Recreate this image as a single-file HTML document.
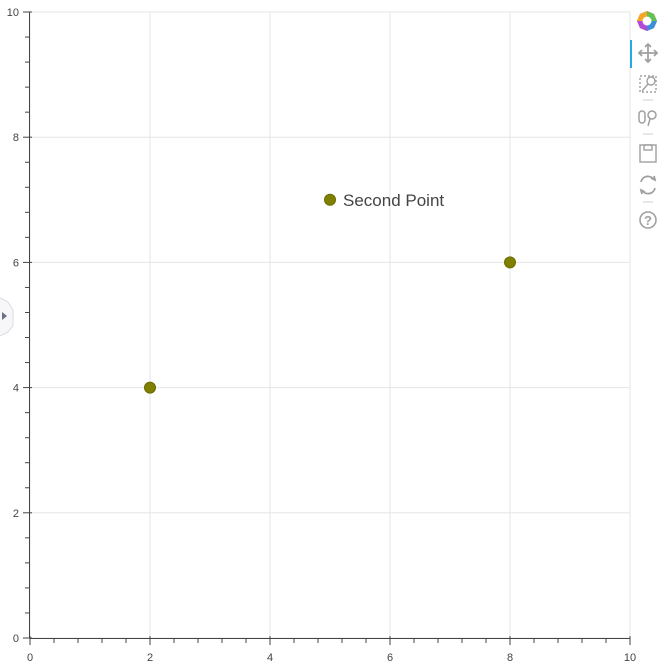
<!DOCTYPE html>
<html><head><meta charset="utf-8"><style>
body{margin:0;background:#fff;width:670px;height:671px;overflow:hidden;font-family:"Liberation Sans",sans-serif}
</style></head><body>
<svg width="670" height="671" style="position:absolute;left:0;top:0">
<g id="grid"></g>
<rect x="30" y="12" width="600" height="626" fill="none" stroke="#e5e5e5" stroke-width="1"/>
<g id="axes"></g>
<g id="points"></g>
<g>
<path d="M0,298 L8,302 L13,310 L13,326 L8,332 L0,336" fill="#f7f7f9" stroke="#d9dbe3"/>
<path d="M2,312 L7,316 L2,320 Z" fill="#6b7085"/>
</g>
<g>
<g transform="translate(647,21)">
<circle r="9" fill="none" stroke="#e0e0e0" stroke-width="0"/>
<path d="M0,-10 L7,-7 L10,0 L7,7 L0,10 L-7,7 L-10,0 L-7,-7Z" fill="#e84d8a"/>
<path d="M0,-10 L7,-7 L10,0 L0,0Z" fill="#64c14f"/>
<path d="M10,0 L7,7 L0,10 L0,0Z" fill="#3c8fd8"/>
<path d="M0,10 L-7,7 L-10,0 L0,0Z" fill="#b44ad8"/>
<path d="M-10,0 L-7,-7 L0,-10 L0,0Z" fill="#f5a623"/>
<circle r="4.5" fill="#fff"/>
</g>
<rect x="630" y="40" width="2" height="28" fill="#26aae1"/>
<g stroke="#a0a0a0" stroke-width="1.8" fill="none">
<path d="M648,44 V62 M639,53 H657"/><path d="M645,47 L648,44 L651,47 M645,59 L648,62 L651,59 M642,50 L639,53 L642,56 M654,50 L657,53 L654,56"/>
</g>
<g stroke="#a0a0a0" fill="none" stroke-width="1.4">
<rect x="640" y="76" width="16" height="16" stroke-dasharray="2,2"/><circle cx="651" cy="81" r="4"/><path d="M648,84 L642,91"/>
</g>
<line x1="643" y1="100" x2="653" y2="100" stroke="#cfcfcf"/>
<g stroke="#a0a0a0" fill="none" stroke-width="1.5">
<rect x="639" y="111" width="6" height="12" rx="3"/><circle cx="652" cy="115" r="4"/><path d="M650,119 L648,126"/>
</g>
<line x1="643" y1="134" x2="653" y2="134" stroke="#cfcfcf"/>
<g stroke="#a0a0a0" fill="none" stroke-width="1.4">
<rect x="640" y="145" width="16" height="17"/><rect x="644" y="145" width="8" height="5"/>
</g>
<g stroke="#a0a0a0" fill="none" stroke-width="1.8">
<path d="M641,182 A7,7 0 0 1 654,180"/><path d="M655,188 A7,7 0 0 1 642,190"/>
<path d="M651,178 L655,180 L654,176" /><path d="M645,192 L641,190 L642,194"/>
</g>
<line x1="643" y1="202" x2="653" y2="202" stroke="#cfcfcf"/>
<g>
<circle cx="648" cy="220" r="8" fill="none" stroke="#a0a0a0" stroke-width="1.6"/>
<text x="648" y="225" font-size="13" font-weight="bold" fill="#a0a0a0" text-anchor="middle">?</text>
</g>
</g>
</svg>
<script>
const xs=[2,5,8];
const ys=[4,7,6];
const labels=["","Second Point",""];
const xTicks=[0,2,4,6,8,10];
const yTicks=[0,2,4,6,8,10];
const NS="http://www.w3.org/2000/svg";
const X=v=>30+v*60, Y=v=>638-v*62.6;
function mk(t,a,p){const e=document.createElementNS(NS,t);for(const k in a)e.setAttribute(k,a[k]);p.appendChild(e);return e;}
const grid=document.getElementById('grid'),axes=document.getElementById('axes'),pts=document.getElementById('points');
xTicks.forEach(t=>{if(t>0&&t<10){const l=mk('line',{x1:X(t),x2:X(t),y1:12,y2:638,stroke:'#e5e5e5'},grid);

}});
yTicks.forEach(t=>{if(t>0&&t<10){const l=mk('line',{x1:30,x2:630,y1:Y(t),y2:Y(t),stroke:'#e5e5e5'},grid);

}});
mk('line',{x1:30,x2:630,y1:638.5,y2:638.5,stroke:'#444'},axes);
mk('line',{x1:29.5,x2:29.5,y1:12,y2:638,stroke:'#444'},axes);
for(let i=0;i<=25;i++){const v=i*0.4;const maj=i%5===0;
mk('line',{x1:X(v),x2:X(v),y1:maj?636:638,y2:maj?645:643,stroke:'#444'},axes);
mk('line',{x1:maj?23:25,x2:maj?32:30,y1:Y(v),y2:Y(v),stroke:'#444'},axes);}
xTicks.forEach(t=>{const e=mk('text',{x:X(t),y:661,'font-size':11,fill:'#444','text-anchor':'middle'},axes);e.textContent=t;

});
yTicks.forEach(t=>{const e=mk('text',{x:19,y:Y(t)+4,'font-size':11,fill:'#444','text-anchor':'end'},axes);e.textContent=t;

});
xs.forEach((x,i)=>{const c=mk('circle',{cx:X(x),cy:Y(ys[i]),r:5.5,fill:'#808000',stroke:'#6b6b00'},pts);


if(labels[i]){const t=mk('text',{x:X(x)+13,y:Y(ys[i])+6,'font-size':17,fill:'#444'},pts);t.textContent=labels[i];

}});
</script>
</body></html>
